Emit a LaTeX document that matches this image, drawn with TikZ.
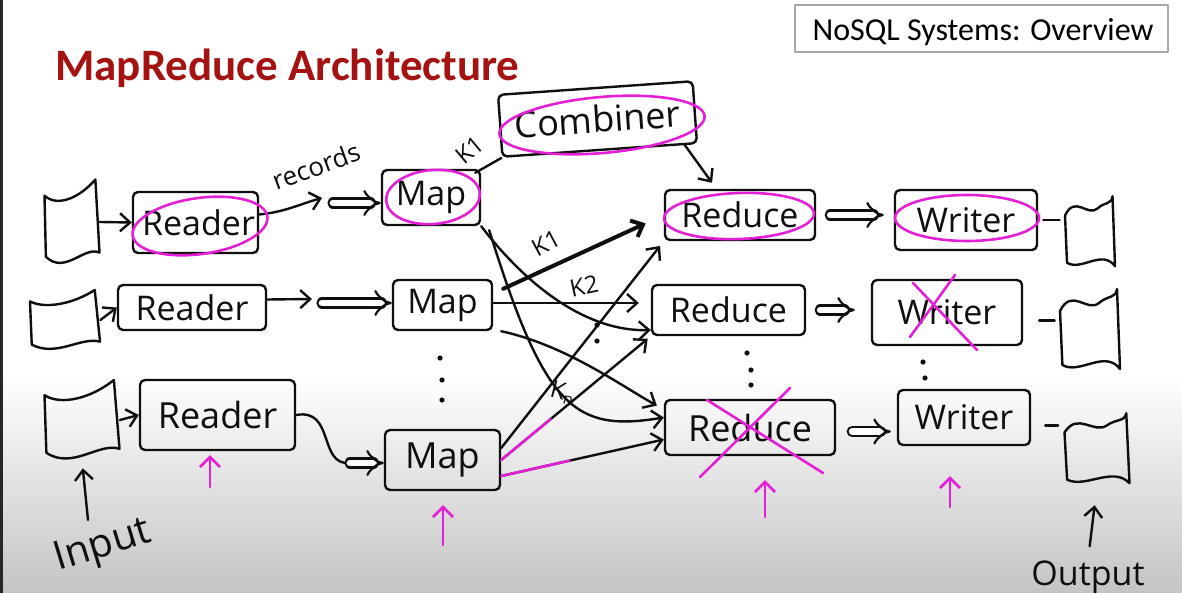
\documentclass[tikz,border=0pt]{standalone}
\usepackage{fontspec}
\setmainfont{Open Sans}
\newfontfamily\titlefont{Carlito}
\usetikzlibrary{arrows.meta,calc}
\definecolor{ink}{RGB}{15,15,15}
\definecolor{pen}{RGB}{228,32,214}
\definecolor{titlered}{RGB}{165,18,18}
\definecolor{shadegray}{RGB}{196,196,196}
\tikzset{
  indoc/.pic={\draw[ink,line width=1.2pt,line join=round]
    (-1,-0.62) .. controls (-0.55,-0.35) and (0.25,-0.55) .. (0.85,-1)
    -- (1,0.72) .. controls (0.45,0.55) and (-0.25,1.25) .. (-0.95,0.82) -- cycle;},
  outdoc/.pic={\draw[ink,line width=1.2pt,line join=round]
    (-1,-0.5) .. controls (-0.6,-1.1) and (-0.1,-0.45) .. (0.3,-0.7)
    .. controls (0.6,-0.9) and (0.85,-0.8) .. (0.9,-1.05)
    -- (1,0.95) .. controls (0.5,0.45) and (-0.35,1.1) .. (-0.92,0.85) -- cycle;}
}
\begin{document}
\begin{tikzpicture}[x=0.5pt,y=-0.5pt,line cap=round,line join=round,
  box/.style={draw=ink,line width=1.2pt,rounded corners=2.5pt,inner sep=0pt,
    text=ink,font=\fontsize{17}{20}\selectfont},
  docn/.style={inner sep=0pt},
  arr/.style={draw=ink,line width=1.2pt,-{Straight Barb[length=5pt,width=9pt]}},
  dbl/.style={draw=ink,line width=1.1pt,double=white,double distance=3.4pt,-{Implies}},
  pinkline/.style={draw=pen,line width=1.3pt},
  pinkarr/.style={pinkline,-{Straight Barb[length=5pt,width=10pt]}},
  lbl/.style={inner sep=0pt,text=ink,font=\fontsize{12}{14}\selectfont},
  dot/.style={fill=ink}
]
\useasboundingbox (0,0) rectangle (1182,593);
\fill[white] (0,0) rectangle (1182,593);
\shade[top color=white,bottom color=shadegray] (0,375) rectangle (1182,593);
\fill[black!85] (0,0) rectangle (3,593);

% header and title
\node[draw=gray!70,line width=0.6pt,fill=white,minimum width=186.5pt,minimum height=23.5pt,
  inner sep=0pt] (hdr) at (981.5,28.5) {};
\node[inner sep=0pt,font=\titlefont\fontsize{16}{18}\selectfont] (hdrtxt) at (983,32) {NoSQL Systems: Overview};
\node[anchor=base west,inner sep=0pt,text=titlered,font=\titlefont\bfseries\fontsize{22.5}{26}\selectfont]
  (title) at (55,81) {MapReduce Architecture};

% input documents
\node[docn,minimum width=27.5pt,minimum height=42.5pt] (in1) at (72,222) {};
\pic[xscale=27.5,yscale=42.5] at (in1) {indoc};
\node[docn,minimum width=35pt,minimum height=30pt] (in2) at (65,320) {};
\pic[xscale=35,yscale=30] at (in2) {indoc};
\node[docn,minimum width=37.5pt,minimum height=40pt] (in3) at (82,420) {};
\pic[xscale=37.5,yscale=40] at (in3) {indoc};

% output documents
\node[docn,minimum width=25pt,minimum height=35pt] (out1) at (1090,233) {};
\pic[xscale=25,yscale=35] at (out1) {outdoc};
\node[docn,minimum width=30pt,minimum height=40pt] (out2) at (1090,331) {};
\pic[xscale=30,yscale=40] at (out2) {outdoc};
\node[docn,minimum width=32.5pt,minimum height=35pt] (out3) at (1097,450) {};
\pic[xscale=32.5,yscale=35] at (out3) {outdoc};

% boxes
\node[box,minimum width=62.5pt,minimum height=30.5pt] (r1) at (195.5,222.5) {\hspace*{3pt}Reader};
\node[box,minimum width=74pt,minimum height=22.5pt] (r2) at (192,307.5) {Reader};
\node[box,minimum width=77.5pt,minimum height=35pt,font=\fontsize{18}{20}\selectfont] (r3) at (217.5,415) {Reader};
\node[box,minimum width=49pt,minimum height=27.5pt] (m1) at (431,197.5) {Map};
\node[box,minimum width=49.5pt,minimum height=25pt] (m2) at (442.5,305) {Map};
\node[box,minimum width=57.5pt,minimum height=30pt,font=\fontsize{18}{20}\selectfont] (m3) at (442.5,460) {Map};
\node[box,minimum width=97.5pt,minimum height=31pt,rotate=4,font=\fontsize{18}{20}\selectfont] (comb) at (597.5,119) {Combiner};
\node[box,minimum width=75pt,minimum height=25pt] (red1) at (740,215) {Reduce};
\node[box,minimum width=76.5pt,minimum height=25pt] (red2) at (728.5,310) {Reduce};
\node[box,minimum width=85pt,minimum height=27.5pt,font=\fontsize{18}{20}\selectfont] (red3) at (750,427.5) {Reduce};
\node[box,minimum width=71pt,minimum height=30pt] (w1) at (966,220) {Writer};
\node[box,minimum width=75pt,minimum height=32.5pt] (w2) at (947,312.5) {Writer};
\node[box,minimum width=66pt,minimum height=27.5pt] (w3) at (964,417.5) {Writer};

% labels
\node[lbl,font=\fontsize{13}{15}\selectfont,rotate=20] (reclbl) at (316,166) {records};
\node[lbl,rotate=40] (k1a) at (470,150) {K1};
\node[lbl,rotate=28] (k1b) at (546,243) {K1};
\node[lbl,rotate=12] (k2) at (584,286) {K2};
\node[lbl,rotate=-15] (kn) at (563,393) {K\textsubscript{n}};
\node[lbl,font=\fontsize{20}{22}\selectfont,rotate=17] (inlbl) at (103,547) {Input};
\node[lbl,font=\fontsize{17}{20}\selectfont] (outlbl) at (1088,577) {Output};

% coordinates for free ends
\coordinate (rec1) at (322,198);
\coordinate (rec2) at (333,203);
\coordinate (a2) at (312,299);
\coordinate (b2) at (322,303);
\coordinate (b3) at (350,463);
\coordinate (inarr) at (88,520);

% input -> reader
\draw[arr] (in1.east) -- (r1.west);
\draw[arr] (in2.east) -- (r2.west);
\draw[arr] (in3.east) -- (r3.west);
\draw[arr,shorten >=4pt] (inarr) -- (in3.south);

% reader -> map
\draw[arr] ([yshift=4pt]r1.east) .. controls (285,212) and (300,204) .. (rec1);
\draw[dbl] (rec2) -- (rec2 -| m1.west);
\draw[arr] ([yshift=4pt]r2.east) -- (a2);
\draw[dbl] (b2) -- (b2 -| m2.west);
\draw[line width=1.2pt,ink] (r3.east) .. controls (335,408) and (318,466) .. (b3);
\draw[dbl] (b3) -- (b3 -| m3.west);

% combiner
\draw[line width=1.2pt,ink] ([xshift=-3pt,yshift=-2pt]m1.north east) -- (comb.south west);
\draw[arr] ([xshift=-7pt]comb.south east) -- ([xshift=-14pt,yshift=3pt]red1.north);

% shuffle
\draw[arr] (m1.south east) .. controls (530,290) and (590,332) .. ([yshift=-10pt]red2.west);
\draw[arr] ([xshift=4pt,yshift=-2pt]m1.south east) .. controls (545,410) and (575,432) .. ([yshift=5pt]red3.west);
\draw[arr,line width=2pt,shorten >=10pt] ([xshift=5pt,yshift=-5pt]m2.north east) -- (red1.west);
\draw[arr,shorten >=6pt] ([yshift=1pt]m2.east) -- ([yshift=1pt]m2.east -| red2.west);
\draw[arr,shorten >=4pt] ([xshift=4pt]m2.south east) .. controls (565,345) and (620,385) .. ([yshift=9pt]red3.west);
\draw[arr,shorten >=3pt] ([yshift=6pt]m3.east) -- (red1.south west);
\draw[arr,shorten >=2pt] (m3.east) -- (red2.south west);
\draw[arr] ([yshift=-8pt]m3.east) -- ([yshift=-6pt]red3.west);
\draw[pinkline] (m3.east) -- ($(m3.east)!0.33!(red2.south west)$);
\draw[pinkline] ([yshift=-8pt]m3.east) -- ($([yshift=-8pt]m3.east)!0.42!([yshift=-6pt]red3.west)$);

% reduce -> writer -> output
\draw[dbl,shorten <=7pt,shorten >=5pt] (red1.east) -- (red1.east -| w1.west);
\draw[dbl,shorten <=7pt,shorten >=8pt] (red2.east) -- (red2.east -| w2.west);
\draw[dbl,shorten <=8pt,shorten >=3pt] ([yshift=-2pt]red3.east) -- ([yshift=-2pt]red3.east -| w3.west);
\draw[line width=1.2pt,ink,shorten <=2.5pt,shorten >=2.5pt] (w1.east) -- (w1.east -| out1.west);
\draw[line width=1.2pt,ink,shorten <=8pt,shorten >=2.5pt] ([yshift=-4pt]w2.east) -- ([yshift=-4pt]w2.east -| out2.west);
\draw[line width=1.2pt,ink,shorten <=7pt,shorten >=3pt] ([yshift=-4pt]w3.east) -- ([yshift=-4pt]w3.east -| out3.west);
\draw[arr,shorten <=7pt,shorten >=10pt] (outlbl.north) -- (out3.south);

% dots
\foreach \p in {(440,358),(442,380),(442,400),(747,353),(751,370),(751,385),(923,362),(925,378),(597,325),(597,341)}
  \fill[ink] \p circle (1.3pt);

% pink marks
\draw[pinkline] (200,226) ellipse [x radius=34pt,y radius=14pt,rotate=8];
\draw[pinkline] (433,197) ellipse [x radius=23.5pt,y radius=13.5pt,rotate=5];
\draw[pinkline] (602,125) ellipse [x radius=51.5pt,y radius=14pt,rotate=5];
\draw[pinkline] (739,216) ellipse [x radius=37.5pt,y radius=11.5pt,rotate=2];
\draw[pinkline] (967,218) ellipse [x radius=36pt,y radius=11.5pt];
\draw[pinkline] (913,283) -- (977,350);
\draw[pinkline] (910,337) -- (955,275);
\draw[pinkline] (790,388) -- (700,477);
\draw[pinkline] (707,400) -- (823,473);
\coordinate (p1) at (210,487);
\coordinate (p2) at (443,545);
\coordinate (p3) at (765,517);
\coordinate (p4) at (950,507);
\draw[pinkarr,shorten >=2pt] (p1) -- (p1 |- r3.south);
\draw[pinkarr,shorten >=7pt] (p2) -- (p2 |- m3.south);
\draw[pinkarr,shorten >=12pt] (p3) -- (p3 |- red3.south);
\draw[pinkarr,shorten >=15pt] (p4) -- (p4 |- w3.south);
\end{tikzpicture}
\end{document}
